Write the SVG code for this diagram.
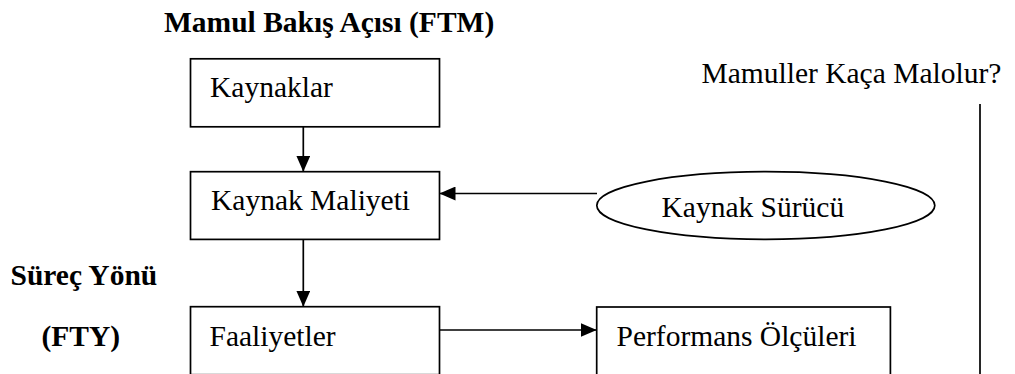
<svg xmlns="http://www.w3.org/2000/svg" width="1015" height="374" viewBox="0 0 1015 374">
  <style>
    .box { fill: #ffffff; stroke: #000000; stroke-width: 1.7; }
    .t { font-family: "Liberation Serif", "Times New Roman", serif; font-size: 29.5px; fill: #000000; }
    .b { font-weight: bold; }
    .c { stroke: #000000; stroke-width: 1.7; fill: none; }
  </style>
  <defs>
    <marker id="ah" markerUnits="userSpaceOnUse" markerWidth="16" markerHeight="14" refX="16" refY="7" orient="auto">
      <path d="M0,0 L16,7 L0,14 z" fill="#000000"/>
    </marker>
  </defs>
  <rect width="1015" height="374" fill="#ffffff"/>

  <g id="title-ftm">
    <text class="t b" x="164" y="32">Mamul Bakış Açısı (FTM)</text>
  </g>
  <g id="title-fty">
    <text class="t b" x="10.5" y="284.5">Süreç Yönü</text>
    <text class="t b" x="41.5" y="346">(FTY)</text>
  </g>
  <g id="question">
    <text class="t" x="701.5" y="82.5">Mamuller Kaça Malolur?</text>
  </g>

  <g id="kaynaklar">
    <rect class="box" x="190.5" y="58.8" width="249" height="68"/>
    <text class="t" x="210" y="97">Kaynaklar</text>
  </g>
  <g id="kaynak-maliyeti">
    <rect class="box" x="190.5" y="171.7" width="249" height="67.7"/>
    <text class="t" x="211" y="210">Kaynak Maliyeti</text>
  </g>
  <g id="kaynak-surucu">
    <ellipse class="box" cx="765.8" cy="205.5" rx="169" ry="33.8"/>
    <text class="t" x="661.5" y="216.5">Kaynak Sürücü</text>
  </g>
  <g id="faaliyetler">
    <rect class="box" x="190.5" y="306.7" width="249" height="68"/>
    <text class="t" x="209.5" y="346">Faaliyetler</text>
  </g>
  <g id="performans">
    <rect class="box" x="596.7" y="307" width="293.7" height="68"/>
    <text class="t" x="616.5" y="345.5">Performans Ölçüleri</text>
  </g>

  <g id="connectors">
    <line class="c" x1="303.3" y1="126.8" x2="303.3" y2="171.7" marker-end="url(#ah)"/>
    <line class="c" x1="597" y1="193.5" x2="439.5" y2="193.5" marker-end="url(#ah)"/>
    <line class="c" x1="303.3" y1="239.4" x2="303.3" y2="306.7" marker-end="url(#ah)"/>
    <line class="c" x1="439.5" y1="330" x2="596.7" y2="330" marker-end="url(#ah)"/>
    <line class="c" x1="980" y1="104" x2="980" y2="380"/>
  </g>
</svg>
